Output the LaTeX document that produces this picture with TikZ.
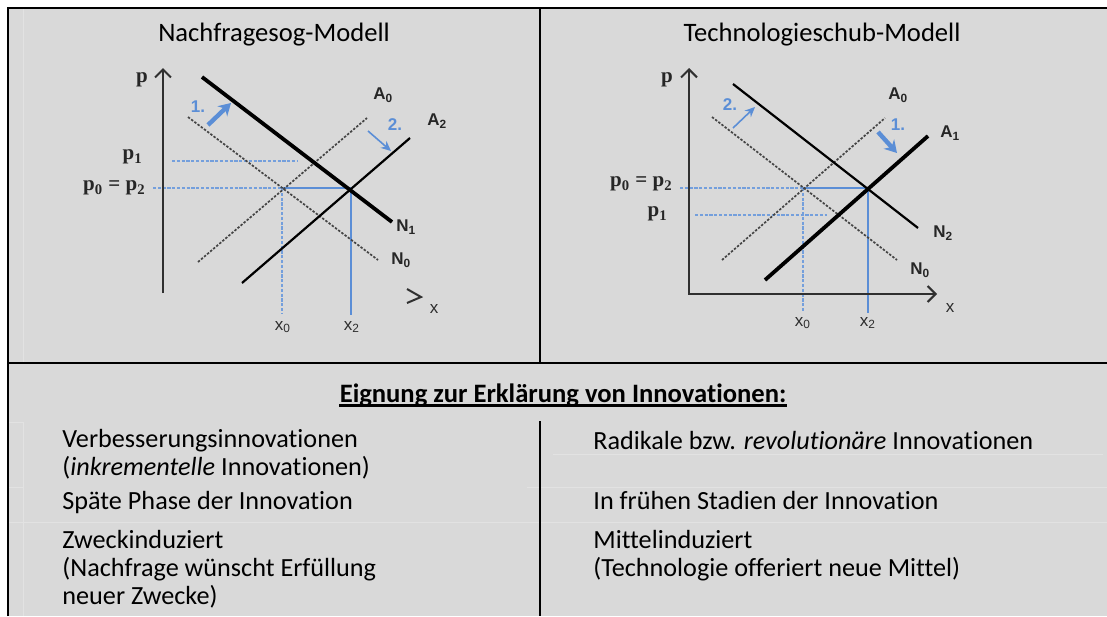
\documentclass[tikz,border=0pt]{standalone}
\usepackage{fontspec}
\setmainfont{Carlito}[RawFeature=-liga]
\newfontfamily\chartsans{Liberation Sans}
\newfontfamily\chartserif{Liberation Serif}
\usepackage{tikz}
\usetikzlibrary{arrows.meta}
\definecolor{cellgray}{HTML}{D9D9D9}
\definecolor{faintline}{HTML}{E2E2E2}
\definecolor{shiftblue}{HTML}{5B8ED6}
\definecolor{oldgray}{HTML}{444444}
\definecolor{axisgray}{HTML}{303030}

\begin{document}
\begin{tikzpicture}[x=0.5pt,y=-0.5pt,
	rule/.style={black,line width=1.1pt},
	faint/.style={faintline,line width=0.4pt},
	axisline/.style={axisgray,line width=1pt},
	curveline/.style={black,line width=1.1pt},
	bold curveline/.style={black,line width=1.9pt},
	old curveline/.style={oldgray,line width=0.85pt,dash pattern=on 1.2pt off 0.8pt},
	guide/.style={shiftblue!85!white,line width=0.8pt,dash pattern=on 1.6pt off 0.8pt},
	eqline/.style={shiftblue,line width=1.1pt},
	move arrow/.style={shiftblue,line width=0.8pt,-{Stealth[length=5pt,width=4.5pt]}},
	big move arrow/.style={shiftblue,line width=2.2pt,-{Stealth[length=6pt,width=7pt]}},
	barb end/.style={-{Straight Barb[length=4pt,width=8pt]}},
	barb ends/.style={{Straight Barb[length=4pt,width=8pt]}-{Straight Barb[length=4pt,width=8pt]}},
	cell/.style={font=\fontsize{13.1}{14}\selectfont,align=left,anchor=west},
	title/.style={font=\fontsize{13.3}{15}\selectfont},
	plabel/.style={font=\chartserif\bfseries\fontsize{10.5}{12}\selectfont,text=black!85},
	clabel/.style={font=\chartsans\bfseries\fontsize{8.5}{10}\selectfont,text=black!85,anchor=west},
	xlabel/.style={font=\chartsans\fontsize{8.5}{10}\selectfont,text=black!82},
	step label/.style={font=\chartsans\bfseries\fontsize{8.5}{10}\selectfont,text=shiftblue}]
	\tikzstyle{every node}+=[inner sep=0pt]
	\useasboundingbox (0,0) rectangle (1107,616);
	\fill[white] (0,0) rectangle (1107,616);
	\fill[cellgray] (8,8) rectangle (1107,616);

	\draw[faint] (23,8) -- (23,363);
	\draw[faint] (23,422) -- (23,616);
	\draw[faint] (8,422) -- (23,422);
	\draw[faint] (553,454) -- (1103,454);
	\draw[faint] (8,487) -- (23,487);
	\draw[faint] (527,487) -- (1107,487);
	\draw[faint] (8,522) -- (1107,522);

	\draw[rule] (8,616) -- (8,8) -- (1107,8);
	\draw[rule] (8,363) -- (1107,363);
	\draw[rule] (540,8) -- (540,363);
	\draw[rule] (540,421) -- (540,616);

	\node[title] (sogtitle) at (274,35) {Nachfragesog-Modell};
	\node[title] (schubtitle) at (822,35) {Technologieschub-Modell};

	% Nachfragesog
	\coordinate (E0L) at (282,188);
	\coordinate (E2L) at (351,188);
	\draw[guide] (172,161) -- (297,161);
	\draw[guide] (153,188) -- (E0L);
	\draw[eqline] (E0L) -- (E2L);
	\draw[guide] (E0L) -- (282,313);
	\draw[eqline] (E2L) -- (351,315);
	\draw[old curveline] (188,117) -- (378,260);
	\draw[old curveline] (198,262) -- (367,118);
	\draw[curveline] (242,283) -- (410,138);
	\draw[bold curveline] (202,77) -- (392,222);
	\draw[axisline,barb end] (163,293) -- (163,68);
	\draw[axisline] (407,289) -- (421,297) -- (407,303);
	\draw[big move arrow] (208,125) -- (231,103);
	\draw[move arrow] (368,131) -- (391,151);

	\node[plabel] (pL) at (142,80) {p};
	\node[plabel,anchor=east] (p1L) at (143,157) {p\textsubscript{1}};
	\node[plabel,anchor=east] (p0L) at (146,188) {p\textsubscript{0} = p\textsubscript{2}};
	\node[clabel] (N1L) at (396,227) {N\textsubscript{1}};
	\node[clabel] (N0L) at (391,260) {N\textsubscript{0}};
	\node[clabel] (A0L) at (373,95) {A\textsubscript{0}};
	\node[clabel] (A2L) at (427,121) {A\textsubscript{2}};
	\node[step label] (oneL) at (198,107) {1.};
	\node[step label] (twoL) at (395,125) {2.};
	\node[xlabel] (x0L) at (283,327) {x\textsubscript{0}};
	\node[xlabel] (x2L) at (352,327) {x\textsubscript{2}};
	\node[xlabel] (xL) at (434,309) {x};

	% Technologieschub
	\coordinate (E0R) at (803,188);
	\coordinate (E2R) at (868,188);
	\draw[guide] (695,215) -- (827,215);
	\draw[guide] (680,188) -- (E0R);
	\draw[eqline] (E0R) -- (E2R);
	\draw[guide] (E0R) -- (803,312);
	\draw[eqline] (E2R) -- (868,313);
	\draw[old curveline] (712,117) -- (897,260);
	\draw[old curveline] (722,260) -- (885,118);
	\draw[curveline] (733,84) -- (918,228);
	\draw[bold curveline] (765,280) -- (928,136);
	\draw[axisline,barb ends] (689,68) -- (689,294) -- (937,294);
	\draw[move arrow] (733,128) -- (755,107);
	\draw[big move arrow] (878,132) -- (897,153);

	\node[plabel] (pR) at (667,80) {p};
	\node[plabel,anchor=east] (p0R) at (673,184) {p\textsubscript{0} = p\textsubscript{2}};
	\node[plabel,anchor=east] (p1R) at (668,214) {p\textsubscript{1}};
	\node[clabel] (N2R) at (933,233) {N\textsubscript{2}};
	\node[clabel] (N0R) at (910,270) {N\textsubscript{0}};
	\node[clabel] (A0R) at (888,95) {A\textsubscript{0}};
	\node[clabel] (A1R) at (940,133) {A\textsubscript{1}};
	\node[step label] (twoR) at (730,105) {2.};
	\node[step label] (oneR) at (898,125) {1.};
	\node[xlabel] (x0R) at (803,323) {x\textsubscript{0}};
	\node[xlabel] (x2R) at (868,323) {x\textsubscript{2}};
	\node[xlabel] (xR) at (950,308) {x};

	% Eignung
	\node[title,font=\bfseries\fontsize{13.3}{15}\selectfont] (eignung) at (563,395) {Eignung zur Erklärung von Innovationen:};
	\draw[black,line width=1.3pt] ([yshift=-1.7pt]eignung.base west) -- ([yshift=-1.7pt]eignung.base east);
	\node[cell] (verb) at (62,454) {Verbesserungsinnovationen\\(\textit{inkrementelle} Innovationen)};
	\node[cell] (spaet) at (62,503) {Späte Phase der Innovation};
	\node[cell] (zweck) at (62,569) {Zweckinduziert\\(Nachfrage wünscht Erfüllung\\neuer Zwecke)};
	\node[cell] (radikal) at (593,440) {Radikale bzw. \textit{revolutionäre} Innovationen};
	\node[cell] (frueh) at (593,500) {In frühen Stadien der Innovation};
	\node[cell] (mittel) at (593,556) {Mittelinduziert\\(Technologie offeriert neue Mittel)};
\end{tikzpicture}
\end{document}
